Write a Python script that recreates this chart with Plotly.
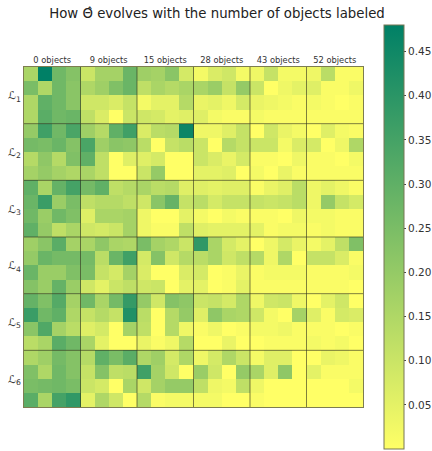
import plotly.graph_objects as go

x_labels = ["0 objects", "9 objects", "15 objects", "28 objects", "43 objects", "52 objects"]
y_labels = ["ℒ<sub>1</sub>", "ℒ<sub>2</sub>", "ℒ<sub>3</sub>", "ℒ<sub>4</sub>", "ℒ<sub>5</sub>", "ℒ<sub>6</sub>"]
colorbar_ticks = [0.05, 0.10, 0.15, 0.20, 0.25, 0.30, 0.35, 0.40, 0.45]
cscale = [[0, "rgb(255,255,102)"], [1, "rgb(0,128,102)"]]

r01 = [.16,.48,.27,.23, .10,.17,.17,.28, .18,.17,.22,.08, .02,.07,.09,.02, .03,.11,.02,.02, .03,.13,.01,.01]
r02 = [.25,.15,.27,.22, .15,.18,.24,.28, .12,.16,.14,.16, .16,.19,.11,.20, .10,.00,.03,.05, .06,.01,.01,.03]
r03 = [.15,.30,.27,.22, .09,.09,.07,.11, .02,.05,.05,.14, .04,.05,.03,.08, .04,.03,.02,.01, .02,.01,.00,.01]
r04 = [.15,.31,.27,.28, .12,.07,.00,.10, .09,.08,.05,.06, .06,.02,.01,.01, .02,.01,.01,.01, .01,.01,.01,.01]
r05 = [.20,.36,.27,.34, .18,.14,.30,.36, .07,.13,.14,.46, .03,.03,.06,.11, .00,.09,.04,.02, .00,.06,.02,.01]
r06 = [.26,.25,.28,.23, .34,.18,.22,.21, .13,.00,.11,.13, .10,.00,.14,.11, .10,.10,.02,.07, .08,.00,.03,.15]
r07 = [.14,.21,.14,.24, .30,.12,.00,.06, .06,.08,.00,.00, .10,.07,.04,.08, .01,.01,.00,.03, .01,.01,.00,.02]
r08 = [.17,.20,.17,.15, .16,.12,.00,.00, .10,.20,.00,.00, .05,.05,.06,.00, .02,.00,.04,.01, .01,.01,.01,.01]
r09 = [.30,.16,.29,.35, .26,.30,.12,.14, .16,.13,.14,.06, .06,.05,.06,.06, .01,.04,.06,.13, .03,.05,.03,.01]
r10 = [.28,.37,.19,.25, .12,.14,.14,.12, .09,.22,.29,.11, .13,.08,.11,.11, .11,.10,.11,.13, .03,.20,.11,.08]
r11 = [.27,.19,.27,.24, .06,.16,.16,.17, .03,.00,.00,.05, .02,.00,.02,.01, .01,.01,.00,.03, .02,.02,.01,.01]
r12 = [.30,.20,.12,.16, .09,.08,.10,.17, .03,.01,.01,.12, .06,.05,.05,.05, .05,.01,.02,.02, .01,.02,.01,.01]
r13 = [.18,.22,.31,.17, .16,.21,.16,.15, .25,.17,.15,.10, .39,.16,.08,.05, .00,.03,.08,.04, .02,.05,.12,.24]
r14 = [.20,.28,.26,.26, .26,.13,.28,.36, .08,.23,.09,.14, .13,.16,.09,.12, .14,.03,.15,.00, .11,.11,.07,.01]
r15 = [.28,.19,.19,.24, .25,.11,.08,.17, .07,.00,.00,.07, .08,.00,.01,.04, .01,.02,.02,.02, .01,.01,.01,.02]
r16 = [.23,.19,.29,.19, .09,.05,.10,.12, .09,.10,.00,.05, .05,.00,.01,.05, .01,.01,.01,.01, .01,.01,.01,.00]
r17 = [.29,.24,.32,.17, .27,.16,.26,.38, .20,.09,.23,.21, .10,.11,.08,.15, .03,.09,.10,.03, .00,.05,.09,.00]
r18 = [.37,.27,.30,.15, .11,.14,.11,.42, .13,.00,.14,.20, .06,.21,.16,.15, .09,.02,.00,.17, .06,.01,.08,.07]
r19 = [.22,.33,.17,.13, .06,.08,.00,.17, .12,.00,.14,.03, .01,.03,.00,.01, .02,.02,.03,.01, .01,.01,.00,.01]
r20 = [.13,.16,.31,.27, .16,.05,.00,.00, .04,.01,.03,.14, .00,.00,.04,.00, .00,.01,.01,.01, .02,.01,.02,.00]
r21 = [.15,.18,.26,.23, .14,.30,.25,.31, .15,.18,.08,.15, .03,.08,.15,.10, .02,.06,.06,.00, .00,.04,.03,.01]
r22 = [.24,.15,.27,.23, .11,.23,.12,.13, .36,.17,.09,.00, .19,.09,.00,.20, .16,.06,.21,.00, .05,.01,.01,.01]
r23 = [.25,.26,.27,.25, .10,.08,.00,.16, .09,.17,.20,.20, .12,.03,.02,.12, .03,.00,.00,.00, .00,.00,.00,.02]
r24 = [.31,.16,.35,.39, .05,.15,.09,.00, .14,.01,.02,.02, .02,.02,.00,.00, .01,.00,.00,.00, .00,.00,.00,.00]
values = [r01,r02,r03,r04,r05,r06,r07,r08,r09,r10,r11,r12,r13,r14,r15,r16,r17,r18,r19,r20,r21,r22,r23,r24]

BLOCK = 4
N = len(values)
centers = [BLOCK * i + (BLOCK - 1) / 2 for i in range(len(x_labels))]

fig = go.Figure(go.Heatmap(
    z=values, colorscale=cscale, zmin=0, zmax=0.48, xgap=0, ygap=0,
    colorbar=dict(
        x=1.0633, xanchor="left", xpad=0, y=0.5, yanchor="middle", ypad=0,
        len=424, lenmode="pixels", thickness=20, thicknessmode="pixels",
        tickvals=colorbar_ticks, ticktext=[f"{t:.2f}" for t in colorbar_ticks],
        ticks="outside", ticklen=2, tickcolor="#444",
        tickfont=dict(family="DejaVu Sans", size=10.5, color="#333"),
        outlinecolor="#777755", outlinewidth=1,
    ),
))

line_style = dict(color="rgba(50,50,30,0.62)", width=1)
shapes = []
for k in range(1, len(x_labels)):
    p = BLOCK * k - 0.5
    shapes.append(dict(type="line", xref="x", yref="y", x0=p, x1=p, y0=-0.5, y1=N - 0.5, line=line_style))
    shapes.append(dict(type="line", xref="x", yref="y", x0=-0.5, x1=N - 0.5, y0=p, y1=p, line=line_style))

fig.update_layout(
    width=432, height=451, autosize=False,
    margin=dict(l=24, r=68.5, t=67, b=44, pad=0, autoexpand=False),
    paper_bgcolor="white", plot_bgcolor="white",
    shapes=shapes,
    title=dict(text="How Θ̂ evolves with the number of objects labeled",
               x=217 / 432, xanchor="center", xref="container",
               y=1 - 13 / 451, yanchor="middle", yref="container",
               font=dict(family="DejaVu Sans", size=13.3, color="#222"), automargin=False),
    xaxis=dict(side="top", range=[-0.5, N - 0.5], tickvals=centers, ticktext=x_labels,
               ticks="", ticklen=0, showgrid=False, zeroline=False, showline=True, mirror=True,
               linecolor="#7d7d50", linewidth=1, automargin=False,
               tickfont=dict(family="DejaVu Sans", size=8.3, color="#333")),
    yaxis=dict(range=[N - 0.5, -0.5], tickvals=centers, ticktext=y_labels,
               ticks="", ticklen=0, showgrid=False, zeroline=False, showline=True, mirror=True,
               linecolor="#7d7d50", linewidth=1, automargin=False,
               tickfont=dict(family="DejaVu Sans", size=11, color="#333")),
)
fig.write_html("out.html", config={"displayModeBar": False}, post_script="document.body.style.margin='0';")
